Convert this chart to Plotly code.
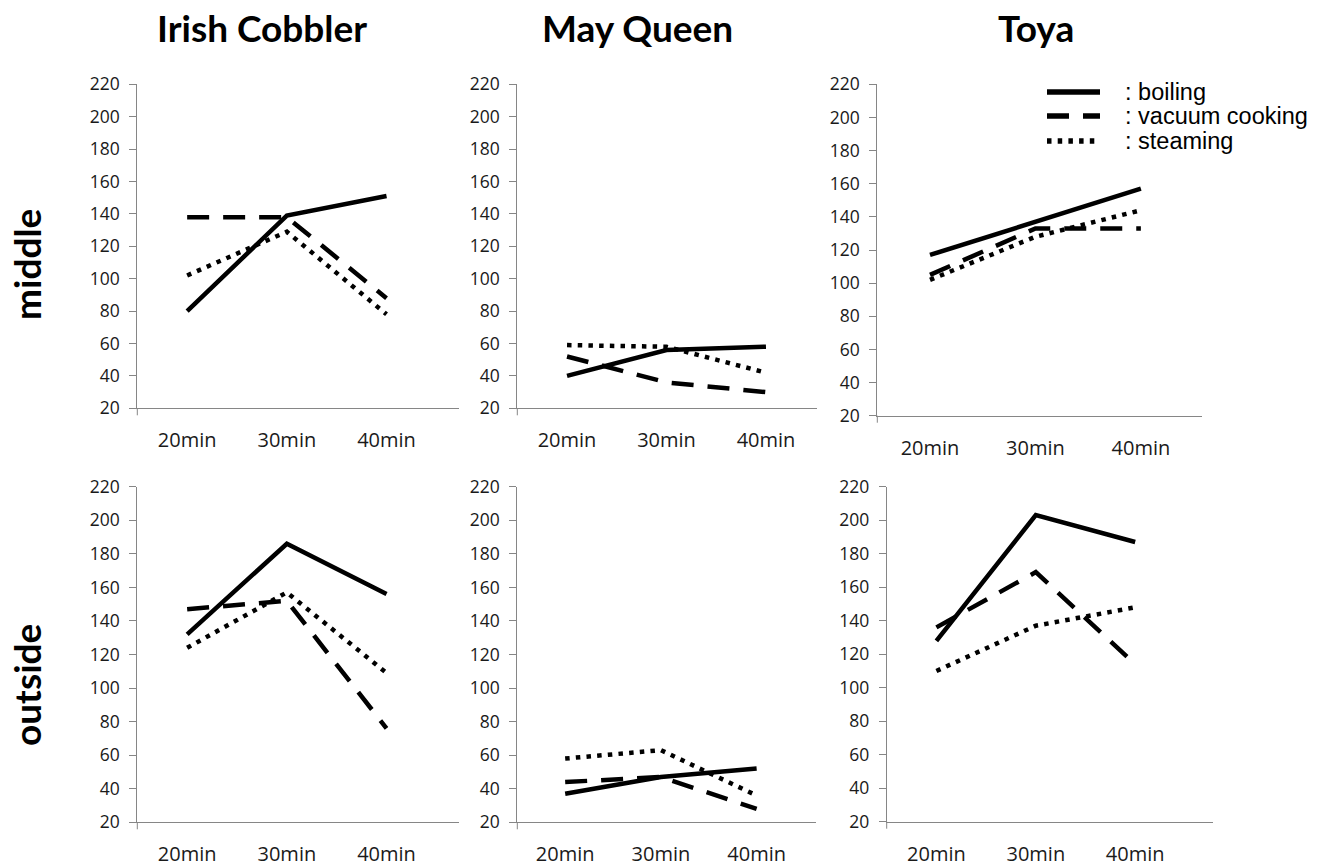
import plotly.graph_objects as go

W, H = 1325, 868

categories = ["20min", "30min", "40min"]
varieties = ["Irish Cobbler", "May Queen", "Toya"]
positions = ["middle", "outside"]
methods = [": boiling", ": vacuum cooking", ": steaming"]

# middle part of the tuber
ic_middle_boiling = [80, 139, 151]
ic_middle_vacuum = [138, 138, 88]
ic_middle_steaming = [102, 129, 78]

mq_middle_boiling = [40, 56, 58]
mq_middle_vacuum = [52, 36, 30]
mq_middle_steaming = [59, 58, 42]

toya_middle_boiling = [117, 137, 157]
toya_middle_vacuum = [105, 133, 133]
toya_middle_steaming = [102, 128, 144]

# outside part of the tuber
ic_outside_boiling = [132, 186, 156]
ic_outside_vacuum = [147, 152, 76]
ic_outside_steaming = [124, 157, 109]

mq_outside_boiling = [37, 47, 52]
mq_outside_vacuum = [44, 47, 28]
mq_outside_steaming = [58, 63, 36]

toya_outside_boiling = [128, 203, 187]
toya_outside_vacuum = [136, 169, 114]
toya_outside_steaming = [110, 137, 148]

y_ticks = [20, 40, 60, 80, 100, 120, 140, 160, 180, 200, 220]

panels = [
    [ic_middle_boiling, ic_middle_vacuum, ic_middle_steaming],
    [mq_middle_boiling, mq_middle_vacuum, mq_middle_steaming],
    [toya_middle_boiling, toya_middle_vacuum, toya_middle_steaming],
    [ic_outside_boiling, ic_outside_vacuum, ic_outside_steaming],
    [mq_outside_boiling, mq_outside_vacuum, mq_outside_steaming],
    [toya_outside_boiling, toya_outside_vacuum, toya_outside_steaming],
]

# plot-area boxes in pixels: (left, right, top, bottom) and right end of category range
boxes = [
    (137.3, 459.3, 84.3, 408.3, 2.73),
    (517.3, 816.7, 84.3, 408.3, 2.51),
    (877.3, 1202.0, 84.3, 415.7, 2.58),
    (137.3, 459.3, 486.7, 822.3, 2.73),
    (517.3, 816.0, 486.7, 822.3, 2.62),
    (886.7, 1212.7, 486.7, 821.7, 2.78),
]

line_styles = [
    dict(color="black", width=4.5, dash="solid"),
    dict(color="black", width=4.5, dash="22px,14px"),
    dict(color="black", width=4.5, dash="4.5px,6.2px"),
]

AXIS_GREY = "#868686"
TICK_FONT = dict(family="Open Sans", size=17.5, color="#1a1a1a")
XTICK_FONT = dict(family="Open Sans", size=20, color="#1a1a1a")


def px_x(p):
    return p / W


def px_y(p):
    return 1 - p / H


fig = go.Figure()
shapes = []

for i, (series, box) in enumerate(zip(panels, boxes)):
    left, right, top, bottom, xmax = box
    sfx = "" if i == 0 else str(i + 1)
    for vals, style, name in zip(series, line_styles, methods):
        fig.add_trace(go.Scatter(
            x=categories, y=vals, mode="lines", line=style, name=name,
            showlegend=False, xaxis="x" + sfx, yaxis="y" + sfx,
        ))
    fig.update_layout(**{
        "xaxis" + sfx: dict(
            domain=[px_x(left), px_x(right)], anchor="y" + sfx, automargin=False,
            type="category", categoryorder="array", categoryarray=categories,
            range=[-0.5, xmax], showgrid=False, zeroline=False,
            showline=True, linecolor=AXIS_GREY, linewidth=1,
            ticks="", tickfont=XTICK_FONT, ticklabelstandoff=14,
        ),
        "yaxis" + sfx: dict(
            domain=[px_y(bottom), px_y(top)], anchor="x" + sfx, automargin=False,
            range=[20, 220], tickvals=y_ticks, showgrid=False, zeroline=False,
            showline=True, linecolor=AXIS_GREY, linewidth=1,
            ticks="outside", ticklen=7, tickcolor=AXIS_GREY, tickwidth=1,
            tickfont=TICK_FONT, ticklabelstandoff=6,
        ),
    })
    # small downward extension of the value axis below the category axis
    shapes.append(dict(
        type="line", xref="x" + sfx + " domain", yref="y" + sfx + " domain",
        ysizemode="pixel", yanchor=0, x0=0, x1=0, y0=0, y1=-7,
        line=dict(color=AXIS_GREY, width=1),
    ))

annotations = []
# column headers
for name, cx in zip(varieties, [261.7, 637.0, 1036.0]):
    annotations.append(dict(
        text="<b>" + name + "</b>", x=px_x(cx), y=px_y(28), xref="paper", yref="paper",
        xanchor="center", yanchor="middle", showarrow=False,
        font=dict(family="Lato", size=37, color="black"),
    ))
# row headers
for name, cy in zip(positions, [265.0, 685.0]):
    annotations.append(dict(
        text="<b>" + name + "</b>", x=px_x(26), y=px_y(cy), xref="paper", yref="paper",
        xanchor="center", yanchor="middle", showarrow=False, textangle=-90,
        font=dict(family="Lato", size=37, color="black"),
    ))

# key for the three cooking methods
key_rows = [92.0, 116.0, 141.0]
for name, style, ry in zip(methods, line_styles, key_rows):
    shapes.append(dict(
        type="line", xref="paper", yref="paper",
        x0=px_x(1047), x1=px_x(1100), y0=px_y(ry), y1=px_y(ry),
        line=dict(color="black", width=5.5, dash=style["dash"]),
    ))
    annotations.append(dict(
        text=name, x=px_x(1123), y=px_y(ry), xref="paper", yref="paper",
        xanchor="left", yanchor="middle", showarrow=False,
        font=dict(family="Liberation Sans", size=23.5, color="black"),
    ))

fig.update_layout(
    width=W, height=H, margin=dict(l=0, r=0, t=0, b=0, autoexpand=False),
    paper_bgcolor="white", plot_bgcolor="white",
    showlegend=False, shapes=shapes, annotations=annotations,
)

fig.write_html("out.html")
